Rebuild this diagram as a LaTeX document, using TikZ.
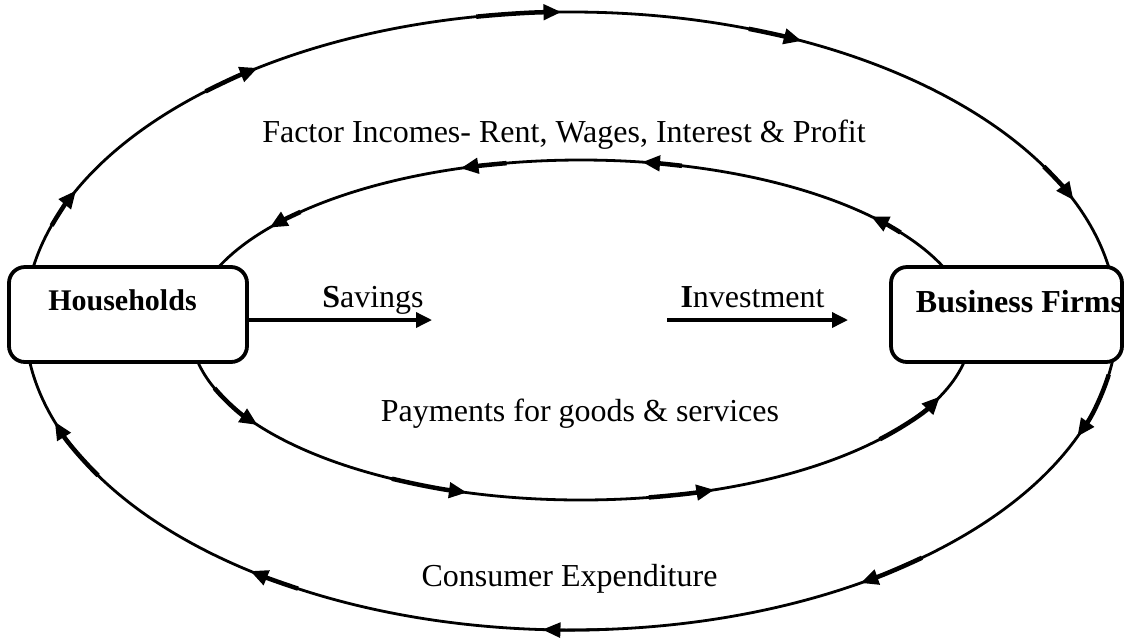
\documentclass[tikz,border=0pt]{standalone}
\usepackage{fontspec}
\setmainfont{Liberation Serif}
\usetikzlibrary{arrows.meta}
\tikzset{
  ring/.style={line width=2.8pt},
  flowarrow/.style={line width=4.5pt,-{Triangle[length=18pt,width=15pt]}},
  push/.style={line width=3.5pt,-{Triangle[length=16pt,width=15pt]}},
  sectorbox/.style={draw,line width=3.8pt,rounded corners=16pt,fill=white,minimum height=95pt,inner sep=0pt},
  txt/.style={font=\fontsize{32}{38}\selectfont,anchor=base,inner sep=0pt},
}
\begin{document}
\begin{tikzpicture}[x=1pt,y=-1pt]
    \useasboundingbox (0,0) rectangle (1124,641);
    % outer loop: factor incomes / consumer expenditure
    \begin{scope}[shift={(571,321)}]
        \draw[ring] (0,0) ellipse (546 and 309);
        \draw[flowarrow] (198:546 and 309) arc[start angle=198,end angle=205,x radius=546,y radius=309];
        \draw[flowarrow] (228:546 and 309) arc[start angle=228,end angle=235,x radius=546,y radius=309];
        \draw[flowarrow] (260:546 and 309) arc[start angle=260,end angle=269,x radius=546,y radius=309];
        \draw[flowarrow] (289:546 and 309) arc[start angle=289,end angle=295,x radius=546,y radius=309];
        \draw[flowarrow] (330:546 and 309) arc[start angle=330,end angle=337,x radius=546,y radius=309];
        \draw[flowarrow] (10:546 and 309) arc[start angle=10,end angle=22,x radius=546,y radius=309];
        \draw[flowarrow] (50:546 and 309) arc[start angle=50,end angle=58,x radius=546,y radius=309];
        \draw[flowarrow,line width=2.8pt] (86:546 and 309) arc[start angle=86,end angle=93,x radius=546,y radius=309];
        \draw[flowarrow] (120:546 and 309) arc[start angle=120,end angle=126,x radius=546,y radius=309];
        \draw[flowarrow] (150:546 and 309) arc[start angle=150,end angle=161,x radius=546,y radius=309];
    \end{scope}
    % inner loop: runs the other way round
    \begin{scope}[shift={(581,330)}]
        \draw[ring] (0,0) ellipse (390 and 170);
        \draw[flowarrow] (259:390 and 170) arc[start angle=259,end angle=252,x radius=390,y radius=170];
        \draw[flowarrow] (285:390 and 170) arc[start angle=285,end angle=279,x radius=390,y radius=170];
        \draw[flowarrow] (224:390 and 170) arc[start angle=224,end angle=217,x radius=390,y radius=170];
        \draw[flowarrow] (325:390 and 170) arc[start angle=325,end angle=318,x radius=390,y radius=170];
        \draw[flowarrow] (160:390 and 170) arc[start angle=160,end angle=146,x radius=390,y radius=170];
        \draw[flowarrow] (119:390 and 170) arc[start angle=119,end angle=107,x radius=390,y radius=170];
        \draw[flowarrow] (80:390 and 170) arc[start angle=80,end angle=70,x radius=390,y radius=170];
        \draw[flowarrow] (40:390 and 170) arc[start angle=40,end angle=23,x radius=390,y radius=170];
    \end{scope}
    % the two sectors
    \node[sectorbox,minimum width=238pt] (hh) at (128,314.5) {};
    \node[sectorbox,minimum width=231pt] (bf) at (1006.5,314.5) {};
    \node[txt,font=\fontsize{30}{36}\selectfont\bfseries] (hhname) at (122.5,310) {Households};
    \node[txt,font=\fontsize{32}{38}\selectfont\bfseries] (bfname) at (1019.5,312) {Business Firms};
    % savings and investment
    \coordinate (sv) at (432,320);
    \coordinate (ivstart) at (667,320);
    \coordinate (iv) at (848,320);
    \draw[push] (hh.east |- sv) -- (sv);
    \draw[push] (ivstart) -- (iv);
    \node[txt] (savings) at (373,307) {\textbf{S}avings};
    \node[txt] (invest) at (752.5,307) {\textbf{I}nvestment};
    % flow labels
    \node[txt] (factor) at (564,142) {Factor Incomes- Rent, Wages, Interest \& Profit};
    \node[txt] (payments) at (580,421) {Payments for goods \& services};
    \node[txt] (consumer) at (569.5,586) {Consumer Expenditure};
\end{tikzpicture}
\end{document}
